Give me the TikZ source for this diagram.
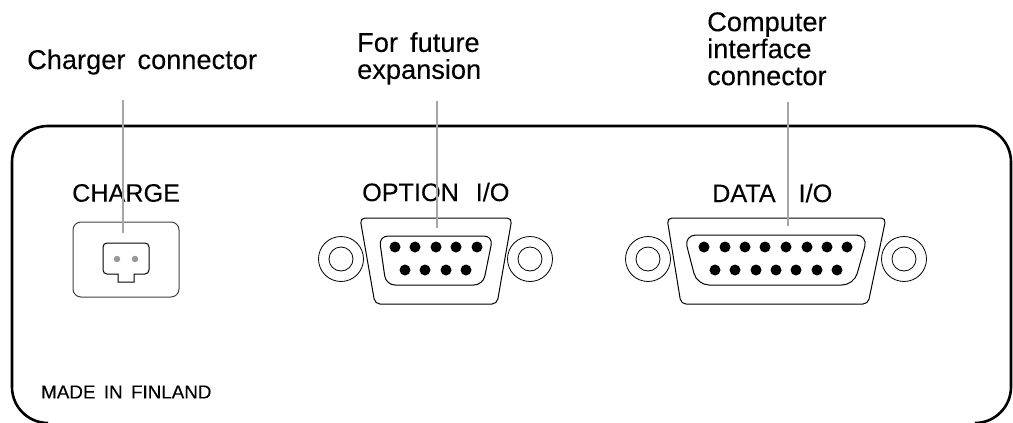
\documentclass[tikz,border=0pt]{standalone}
\usepackage{fontspec}
\setmainfont[FakeBold=0.12]{Liberation Sans}

\tikzset{
    label text/.style={font={\fontsize{27.2}{27}\selectfont}, align=left, inner sep=0pt},
    panel text/.style={font={\fontsize{25.2}{27}\selectfont}, inner sep=0pt},
    small text/.style={font={\fontsize{18.8}{19}\selectfont}, inner sep=0pt},
    leader/.style={draw=black!35, line width=1.1pt},
    pin/.style={circle, fill=black, inner sep=0pt, minimum size=11pt},
    screw/.style={circle, draw, line width=.8pt, inner sep=0pt, minimum size=#1},
    shell/.style={draw, line width=1pt, rounded corners=5pt},
}

\begin{document}
\begin{tikzpicture}[x=1pt, y=-1pt]
    \useasboundingbox (0,0) rectangle (1013,423);
    % panel outline
    \draw[line width=2.6pt, rounded corners=36pt] (48,423) -- (12,423) -- (12,126) -- (1011,126) -- (1011,423) -- (975,423);

    % labels
    \node[label text, anchor=west] (chargerlabel) at (27,62) {Charger\, connector};
    \node[label text, anchor=north west] (futurelabel) at (357,32) {For\, future\\expansion};
    \node[label text, anchor=north west] (computerlabel) at (707,12) {Computer\\interface\\connector};
    \node[panel text, anchor=west] (chargetext) at (72,193) {CHARGE};
    \node[panel text, anchor=west] (optiontext) at (362,192) {OPTION\hspace{17pt}I/O};
    \node[panel text, anchor=west] (datatext) at (712,193) {DATA\hspace{23pt}I/O};
    \node[small text, anchor=west] (madetext) at (41,392) {MADE\, IN\, FINLAND};

    % charge socket
    \draw[shell, rounded corners=8pt, draw=black!75] (73,222) rectangle (179,297);
    \draw[line width=1pt, rounded corners=4pt] (103,243) -- (149,243) -- (149,274) [sharp corners] -- (134,274) -- (134,282) -- (118,282) -- (118,274) [rounded corners=4pt] -- (103,274) -- cycle;
    \node[circle, fill=black!40, inner sep=0pt, minimum size=6.5pt] (chargepina) at (117,259) {};
    \node[circle, fill=black!40, inner sep=0pt, minimum size=6.5pt] (chargepinb) at (135,259) {};

    % option connector
    \draw[shell] (360,218) -- (512,218) -- (497,304) -- (375,304) -- cycle;
    \draw[shell, rounded corners=9pt] (379,236) -- (493,236) -- (483,285) -- (386,285) -- cycle;
    \foreach \x in {395,415,436,456,477}
        \node[pin] at (\x,247) {};
    \foreach \x in {405,425,446,466}
        \node[pin] at (\x,270) {};
    \node[screw=45pt] (optionscrewa) at (341,259) {};
    \node[screw=24pt] at (341,259) {};
    \node[screw=45pt] (optionscrewb) at (530,259) {};
    \node[screw=24pt] at (530,259) {};

    % data connector
    \draw[shell] (667,218) -- (886,218) -- (868,304) -- (681,304) -- cycle;
    \draw[shell, rounded corners=12pt] (684,235) -- (868,235) -- (854,285) -- (697,285) -- cycle;
    \foreach \x in {704,725,745,765,786,807,827,847}
        \node[pin] at (\x,247) {};
    \foreach \x in {715,735,756,776,796,817,837}
        \node[pin] at (\x,270) {};
    \node[screw=45pt] (datascrewa) at (648,259) {};
    \node[screw=24pt] at (648,259) {};
    \node[screw=45pt] (datascrewb) at (904,259) {};
    \node[screw=24pt] at (904,259) {};

    % leader lines
    \coordinate (chargestart) at (123,100);
    \coordinate (chargeend) at (123,233);
    \coordinate (optionstart) at (437,101);
    \coordinate (optionend) at (437,228);
    \coordinate (datastart) at (788,102);
    \coordinate (dataend) at (788,226);
    \draw[leader] (chargestart) -- (chargeend);
    \draw[leader] (optionstart) -- (optionend);
    \draw[leader] (datastart) -- (dataend);
\end{tikzpicture}
\end{document}
